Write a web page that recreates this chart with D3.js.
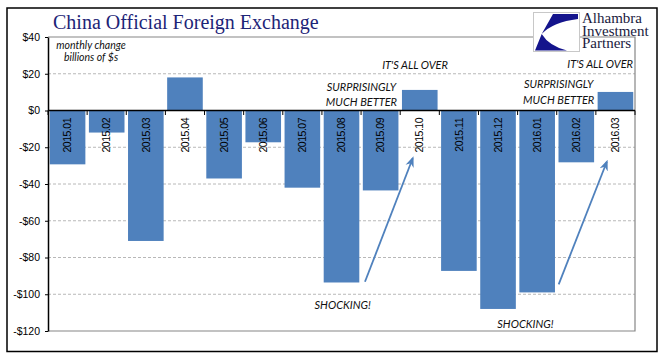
<!DOCTYPE html>
<html>
<head>
<meta charset="utf-8">
<title>China Official Foreign Exchange</title>
<script src="https://d3js.org/d3.v7.min.js"></script>
<style>
  body { margin: 0; background: #fff; }
  svg { display: block; }
</style>
</head>
<body>
<div id="container"></div>
<script>
const width = 664;
const height = 361;
const margin = { top: 37, right: 29, bottom: 30, left: 48 };

// monthly change, billions of $
const months = ["2015.01", "2015.02", "2015.03", "2015.04", "2015.05", "2015.06", "2015.07", "2015.08",
                "2015.09", "2015.10", "2015.11", "2015.12", "2016.01", "2016.02", "2016.03"];
const changes = [-29.3, -12, -71, 18, -37, -17.3, -42, -93.6, -43.5, 11.2, -87.3, -108, -99, -28.2, 10.1];
const yTicks = [40, 20, 0, -20, -40, -60, -80, -100, -120];

// annotations: x in category units from the left axis, y in $ (text baseline)
const notes = [
  { text: "monthly change", x: 1.1, y: 33.7, anchor: "middle", size: 10.5 },
  { text: "billions of $s", x: 1.1, y: 26.9, anchor: "middle", size: 10.5 },
  { text: "IT'S ALL OVER", x: 10.22, y: 22.6, anchor: "end", size: 11 },
  { text: "SURPRISINGLY", x: 8.01, y: 10.8, anchor: "middle", size: 11 },
  { text: "MUCH BETTER", x: 8.01, y: 2.6, anchor: "middle", size: 11 },
  { text: "IT'S ALL OVER", x: 14.95, y: 23.1, anchor: "end", size: 11 },
  { text: "SURPRISINGLY", x: 13.05, y: 12.2, anchor: "middle", size: 11 },
  { text: "MUCH BETTER", x: 13.05, y: 3.5, anchor: "middle", size: 11 },
  { text: "SHOCKING!", x: 7.53, y: -108, anchor: "middle", size: 11 },
  { text: "SHOCKING!", x: 12.2, y: -118.4, anchor: "middle", size: 11 }
];
const arrows = [
  { x1: 8.10, y1: -93.2, x2: 9.32, y2: -26.0 },
  { x1: 13.05, y1: -94.6, x2: 14.28, y2: -27.9 }
];

const barColor = "#4f81bd";

const svg = d3.select("#container").append("svg")
  .attr("width", width)
  .attr("height", height);

// outer frame
svg.append("rect")
  .attr("x", 7).attr("y", 8)
  .attr("width", 650).attr("height", 343.5)
  .attr("fill", "none")
  .attr("stroke", "#000")
  .attr("stroke-width", 1.5);

const x = d3.scaleBand()
  .domain(months)
  .range([margin.left, width - margin.right])
  .paddingInner(0.09)
  .paddingOuter(0.045);

// continuous category scale for annotations and ticks
const xc = d3.scaleLinear()
  .domain([0, months.length])
  .range([margin.left, width - margin.right]);

const y = d3.scaleLinear()
  .domain([-120, 40])
  .range([height - margin.bottom, margin.top]);

// gridlines
svg.append("g")
  .selectAll("line")
  .data(yTicks.filter(d => d !== 0 && d !== 40 && d !== -120))
  .join("line")
  .attr("x1", margin.left).attr("x2", width - margin.right)
  .attr("y1", d => y(d)).attr("y2", d => y(d))
  .attr("stroke", "#a6a6a6")
  .attr("stroke-dasharray", "3,2")
  .attr("stroke-width", 0.8);

// plot area border (top, right, bottom)
svg.append("path")
  .attr("d", `M${margin.left},${y(40)}H${width - margin.right}V${y(-120)}H${margin.left}`)
  .attr("fill", "none")
  .attr("stroke", "#868686")
  .attr("stroke-width", 1.2);

// bars
svg.append("g")
  .selectAll("rect")
  .data(changes)
  .join("rect")
  .attr("x", (d, i) => x(months[i]))
  .attr("width", x.bandwidth())
  .attr("y", d => y(Math.max(0, d)))
  .attr("height", d => Math.abs(y(d) - y(0)))
  .attr("fill", barColor);

// y axis
const yAxis = svg.append("g")
  .attr("transform", `translate(${margin.left},0)`)
  .call(d3.axisLeft(y)
    .tickValues(yTicks)
    .tickSize(3)
    .tickSizeOuter(0)
    .tickPadding(5)
    .tickFormat(d => (d < 0 ? "-" : "") + "$" + Math.abs(d)));
yAxis.select(".domain").attr("stroke", "#000").attr("stroke-width", 1.5);
yAxis.selectAll(".tick line").attr("stroke", "#000");
yAxis.selectAll("text")
  .attr("fill", "#000")
  .style("font-family", "'Liberation Sans', Arial, sans-serif")
  .style("font-size", "10.5px");

// zero line with category ticks
svg.append("line")
  .attr("x1", margin.left).attr("x2", width - margin.right)
  .attr("y1", y(0)).attr("y2", y(0))
  .attr("stroke", "#000")
  .attr("stroke-width", 1.5);
svg.append("g")
  .selectAll("line")
  .data(d3.range(months.length + 1))
  .join("line")
  .attr("x1", d => xc(d)).attr("x2", d => xc(d))
  .attr("y1", y(0)).attr("y2", y(0) + 4.5)
  .attr("stroke", "#000")
  .attr("stroke-width", 1);

// category labels, rotated
svg.append("g")
  .selectAll("text")
  .data(months)
  .join("text")
  .attr("transform", d => `translate(${x(d) + x.bandwidth() / 2},${y(0) + 7.5}) rotate(-90)`)
  .attr("text-anchor", "end")
  .attr("dy", "0.35em")
  .attr("fill", "#000")
  .style("font-family", "'Liberation Sans', Arial, sans-serif")
  .style("font-size", "10.5px")
  .style("letter-spacing", "-0.5px")
  .text(d => d);

// arrows
svg.append("defs").append("marker")
  .attr("id", "head")
  .attr("viewBox", "0 0 10 10")
  .attr("refX", 8).attr("refY", 5)
  .attr("markerWidth", 6).attr("markerHeight", 6)
  .attr("orient", "auto")
  .append("path")
  .attr("d", "M0,1 L10,5 L0,9 L3,5 Z")
  .attr("fill", barColor);

svg.append("g")
  .selectAll("line")
  .data(arrows)
  .join("line")
  .attr("x1", d => xc(d.x1)).attr("y1", d => y(d.y1))
  .attr("x2", d => xc(d.x2)).attr("y2", d => y(d.y2))
  .attr("stroke", barColor)
  .attr("stroke-width", 1.8)
  .attr("marker-end", "url(#head)");

// annotation texts
svg.append("g")
  .selectAll("text")
  .data(notes)
  .join("text")
  .attr("x", d => xc(d.x))
  .attr("y", d => y(d.y))
  .attr("text-anchor", d => d.anchor)
  .attr("fill", "#111")
  .style("font-family", "Lato, 'Open Sans', sans-serif")
  .style("font-style", "italic")
  .style("font-size", d => d.size + "px")
  .text(d => d.text);

// title
svg.append("text")
  .attr("x", 53).attr("y", 29)
  .attr("fill", "#1d2477")
  .style("font-family", "'Liberation Serif', 'Times New Roman', serif")
  .style("font-size", "20px")
  .text("China Official Foreign Exchange");

// logo
const logo = svg.append("g");
logo.append("rect")
  .attr("x", 533.5).attr("y", 12.5)
  .attr("width", 46).attr("height", 39)
  .attr("fill", "#fff")
  .attr("stroke", "#c8c8c8");
logo.append("path")
  .attr("d", "M553,14 L578,14 L578,19 Q553,22 541.7,34 Z")
  .attr("fill", "#14148c");
logo.append("path")
  .attr("d", "M541.7,34 Q549,46 567,50.5 L535,50.5 Z")
  .attr("fill", "#14148c");
const logoText = logo.append("text")
  .attr("fill", "#1a1a40")
  .style("font-family", "'Liberation Serif', 'Times New Roman', serif")
  .style("font-size", "15px");
logoText.selectAll("tspan")
  .data(["Alhambra", "Investment", "Partners"])
  .join("tspan")
  .attr("x", 582)
  .attr("y", (d, i) => 23 + i * 12.7)
  .text(d => d);
</script>
</body>
</html>
